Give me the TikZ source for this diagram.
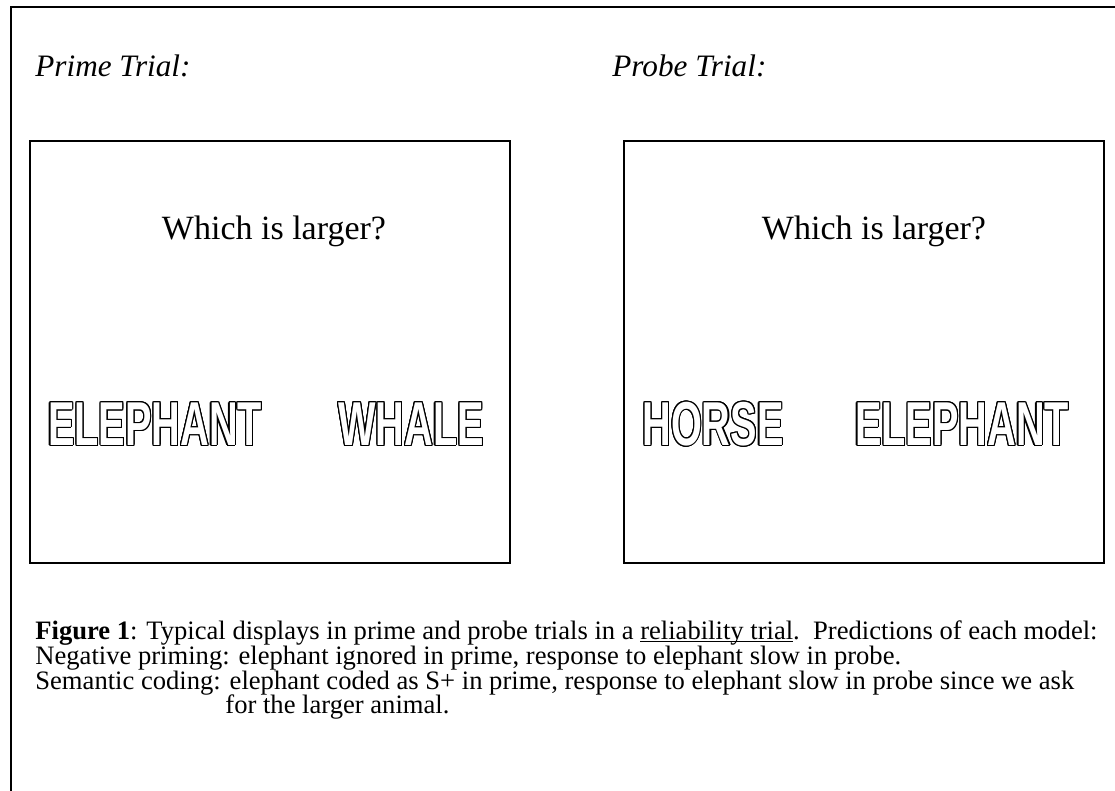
\documentclass[tikz,border=0pt]{standalone}
\usepackage{fontspec}
\setmainfont{Liberation Serif}
\newfontfamily\blockfont[FakeStretch=0.64]{Liberation Sans}
\usepackage{tikz}

% black copies round a white word give an outline
\newcommand{\hollow}[1]{%
    \foreach \a in {0, 22.5, ..., 337.5}{%
        \pgfmathsetlengthmacro\dx{0.55pt*cos(\a)}%
        \pgfmathsetlengthmacro\dy{0.55pt*sin(\a)}%
        \rlap{\kern\dx\raisebox{\dy}{#1}}}%
    \textcolor{white}{#1}}
\newcommand{\uword}[1]{%
    \setbox0\hbox{#1}\rlap{\raisebox{-1.6pt}{\rule{\wd0}{0.55pt}}}\box0}

\tikzset{
    panel/.style={draw, line width=0.9pt, inner sep=0pt, minimum width=240pt, minimum height=211pt},
    heading/.style={font=\fontsize{15.6}{17}\selectfont\itshape, anchor=base west, inner sep=0pt},
    question/.style={font=\fontsize{17}{19}\selectfont, anchor=base, inner sep=0pt},
    animal/.style={font=\blockfont\bfseries\fontsize{31}{32}\selectfont, inner sep=0pt},
    capline/.style={font=\fontsize{13.3}{15}\selectfont, anchor=base west, inner sep=0pt}
}

\begin{document}
\begin{tikzpicture}[x=0.5pt, y=-0.5pt]
    \useasboundingbox (0, 0) rectangle (1115, 791);
    % outer frame, cut off at right and bottom
    \draw[line width=1.3pt] (11, 791) -- (11, 7) -- (1115, 7);

    \node[heading] (primehead) at (35, 77) {Prime Trial:};
    \node[heading] (probehead) at (612, 77) {Probe Trial:};

    % the two displays
    \node[panel] (prime) at (270, 352) {};
    \node[panel] (probe) at (864, 352) {};

    \node[question] (primeq) at (274, 240) {Which is larger?};
    \node[question] (probeq) at (874, 240) {Which is larger?};

    \node[animal] (primeleft) at (155, 424) {\hollow{ELEPHANT}};
    \node[animal] (primeright) at (411, 424) {\hollow{WHALE}};
    \node[animal] (probeleft) at (713, 424) {\hollow{HORSE}};
    \node[animal] (proberight) at (962, 424) {\hollow{ELEPHANT}};

    % caption
    \node[capline] (cap1) at (35, 639) {\textbf{Figure 1}: Typical displays in prime and probe trials in a \uword{reliability trial}.\ \ Predictions of each model:};
    \node[capline] (cap2) at (35, 664) {Negative priming: elephant ignored in prime, response to elephant slow in probe.};
    \node[capline] (cap3) at (35, 689) {Semantic coding: elephant coded as S+ in prime, response to elephant slow in probe since we ask};
    \node[capline] (cap4) at (225, 713) {for the larger animal.};
\end{tikzpicture}
\end{document}
